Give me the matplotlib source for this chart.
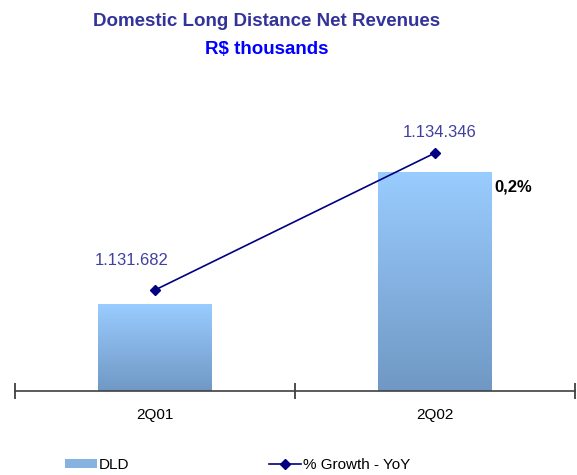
import matplotlib
matplotlib.use('Agg')
import matplotlib.pyplot as plt
import numpy as np
from matplotlib.colors import LinearSegmentedColormap
from matplotlib.patches import Rectangle
from matplotlib.lines import Line2D

plt.rcParams['font.family'] = ['Liberation Sans', 'DejaVu Sans']

# dados
quarters = ['2Q01', '2Q02']
dld = [1131682, 1134346]
dld_labels = ['1.131.682', '1.134.346']
growth_label = '0,2%'

fig = plt.figure(figsize=(5.77, 4.75), dpi=100)
ax = fig.add_axes([15/577, 1 - 391/475, 560/577, 311/475])
ax2 = ax.twinx()

x = np.arange(len(quarters))
width = 0.407
ymin, ymax = 1129959, 1136189

# barras com degradê
cmap = LinearSegmentedColormap.from_list('dld', ['#7098C4', '#99CCFF'])
grad = np.linspace(0, 1, 256).reshape(-1, 1)
for xi, v in zip(x, dld):
    ax.imshow(grad, extent=(xi - width/2, xi + width/2, ymin, v), origin='lower',
              aspect='auto', cmap=cmap, zorder=2)
ax.set_aspect('auto')
ax.set_xlim(-0.5, 1.5)
ax.set_ylim(ymin, ymax)

# linha no eixo secundário
ax2.set_ylim(1129718, 1135765)
ax2.plot(x, dld, color='#000080', lw=1.2, marker='D', markersize=5, zorder=5)
ax2.annotate(dld_labels[0], (x[0], dld[0]), xytext=(-17, 21.5), textcoords='offset points',
             ha='center', va='center', fontsize=12, color='#4040A0')
ax2.annotate(dld_labels[1], (x[1], dld[1]), xytext=(3, 15), textcoords='offset points',
             ha='center', va='center', fontsize=12, color='#4040A0')
ax.text(x[1] + width/2 + 0.007, dld[1] - 300, growth_label, ha='left', va='center',
        fontsize=12, fontweight='bold', color='black')

for a in (ax, ax2):
    for s in ['top', 'right', 'left']:
        a.spines[s].set_visible(False)
    a.set_yticks([])
ax2.spines['bottom'].set_visible(False)
ax.spines['bottom'].set_color('#404040')
ax.spines['bottom'].set_linewidth(1.2)
ax.set_xticks([-0.5, 0.5, 1.5])
ax.set_xticklabels([])
ax.set_xticks(x, minor=True)
ax.set_xticklabels(quarters, minor=True, fontsize=11)
ax.tick_params(axis='x', which='major', direction='inout', length=12, width=1.2, color='#303030')
ax.tick_params(axis='x', which='minor', length=0, pad=12)

fig.text(267/577, 1 - 21/475, 'Domestic Long Distance Net Revenues', ha='center', va='center',
         fontsize=13.5, fontweight='bold', color='#333399')
fig.text(267/577, 1 - 49/475, 'R$ thousands', ha='center', va='center',
         fontsize=13.5, fontweight='bold', color='#0000FF')

# legenda
h_bar = Rectangle((0, 0), 1, 1, facecolor='#86B2E0', edgecolor='none')
h_line = Line2D([0], [0], color='#000080', marker='D', markersize=5, lw=1.2)
fig.legend([h_bar], ['DLD'], loc='center left', bbox_to_anchor=(51/577, 1 - 465/475),
           frameon=False, fontsize=11, handlelength=2.1, handleheight=0.5, handletextpad=0.15)
fig.legend([h_line], ['% Growth - YoY'], loc='center left', bbox_to_anchor=(255/577, 1 - 465/475),
           frameon=False, fontsize=11, handlelength=2.1, handletextpad=0.15)

fig.savefig('out.png', dpi=100)
